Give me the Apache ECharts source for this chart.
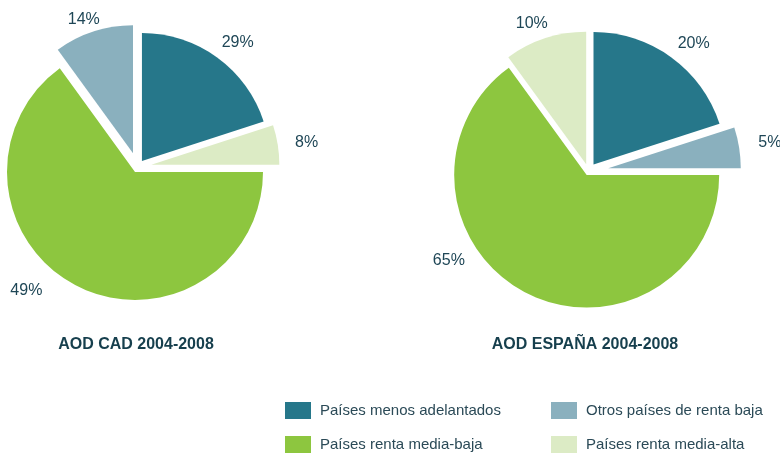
<!DOCTYPE html>
<html>
<head>
<meta charset="utf-8">
<title>AOD CAD / España 2004-2008</title>
<script src="https://cdn.jsdelivr.net/npm/echarts@6/dist/echarts.min.js"></script>
<style>
  html, body { margin: 0; padding: 0; background: #fff; }
  #chart { width: 780px; height: 454px; }
</style>
</head>
<body>
<div id="chart"></div>
<script>
// categorías (orden de la leyenda)
const categories = [
  'Países menos adelantados',
  'Otros países de renta baja',
  'Países renta media-baja',
  'Países renta media-alta'
]
const colors = {
  'Países menos adelantados': '#26778a',
  'Otros países de renta baja': '#8ab0be',
  'Países renta media-baja': '#8dc63f',
  'Países renta media-alta': '#dcebc5'
}

// gráfico izquierdo: AOD CAD (tamaño de los sectores)
const cadNames = ['Países menos adelantados', 'Países renta media-alta', 'Países renta media-baja', 'Otros países de renta baja']
const cadValues = [20, 5, 65, 10]
const cadLabels = ['29%', '8%', '49%', '14%']

// gráfico derecho: AOD España
const espNames = ['Países menos adelantados', 'Otros países de renta baja', 'Países renta media-baja', 'Países renta media-alta']
const espValues = [20, 5, 65, 10]
const espLabels = ['20%', '5%', '65%', '10%']

// estilo: separación de cada sector y posición de las etiquetas
// ([length, length2] de la línea guía, que no se dibuja)
const cadOffsets = [7.5, 14, 5.5, 14.5]
const espOffsets = [8.5, 20, 4, 7.5]
const cadLabelLines = [[18, -6], [12.5, 5], [5.5, 32], [12, -10]]
const espLabelLines = [[17.5, -4], [29.5, -10], [-36, 78], [16, -7.5]]

const textColor = '#1e4656'
const fontFamily = 'Liberation Sans'

const pieBase = {
  type: 'pie',
  startAngle: 90,
  clockwise: true,
  selectedMode: 'multiple',
  avoidLabelOverlap: false,
  silent: true,
  label: {
    show: true,
    position: 'outside',
    distanceToLabelLine: 0,
    color: textColor,
    fontFamily,
    fontSize: 16
  },
  labelLine: { show: false },
  emphasis: { disabled: true }
}

// una serie por sector, para que cada uno tenga su propia separación
const buildPie = (pieName, center, radius, names, values, labels, offsets, lines) =>
  names.map((shownName, k) => Object.assign({}, pieBase, {
    name: pieName,
    center,
    radius,
    selectedOffset: offsets[k],
    data: names.map((name, i) => i === k
      ? {
          name,
          value: values[i],
          selected: true,
          itemStyle: { color: colors[name] },
          label: { formatter: labels[i] },
          labelLine: { show: false, length: lines[i][0], length2: lines[i][1] }
        }
      : {
          name,
          value: values[i],
          itemStyle: { color: 'transparent' },
          label: { show: false }
        })
  }))

const chart = echarts.init(document.getElementById('chart'))

const legendBase = {
  orient: 'vertical',
  top: 402,
  icon: 'rect',
  itemWidth: 26,
  itemHeight: 17,
  itemGap: 17,
  selectedMode: false,
  padding: 0,
  textStyle: {
    color: '#2b4a57',
    fontFamily,
    fontSize: 15,
    lineHeight: 17,
    padding: [0, 0, 0, 4]
  }
}
const legendItem = name => ({ name, itemStyle: { color: colors[name] } })

const titleStyle = { color: '#163f4d', fontFamily, fontWeight: 'bold', fontSize: 16 }

chart.setOption({
  animation: false,
  backgroundColor: '#fff',
  title: [
    { text: 'AOD CAD 2004-2008', left: 136, top: 337, textAlign: 'center', padding: 0, textStyle: titleStyle },
    { text: 'AOD ESPAÑA 2004-2008', left: 585, top: 337, textAlign: 'center', padding: 0, textStyle: titleStyle }
  ],
  legend: [
    Object.assign({}, legendBase, { left: 285, data: [legendItem(categories[0]), legendItem(categories[2])] }),
    Object.assign({}, legendBase, { left: 551, data: [legendItem(categories[1]), legendItem(categories[3])] })
  ],
  series: [
    ...buildPie('AOD CAD 2004-2008', [137.5, 167], 128, cadNames, cadValues, cadLabels, cadOffsets, cadLabelLines),
    ...buildPie('AOD ESPAÑA 2004-2008', [588.5, 171.5], 132.5, espNames, espValues, espLabels, espOffsets, espLabelLines)
  ]
})

window.addEventListener('resize', () => {
  chart.resize()
})
</script>
</body>
</html>
